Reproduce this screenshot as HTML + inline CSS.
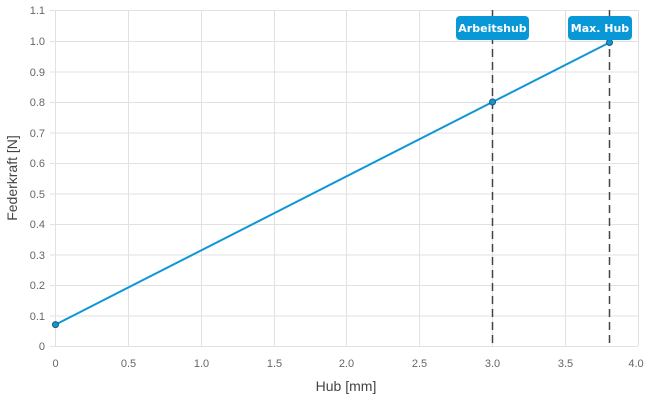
<!DOCTYPE html>
<html><head><meta charset="utf-8"><style>html,body{margin:0;padding:0;background:#fff}svg{display:block}text{font-family:"Liberation Sans","DejaVu Sans",sans-serif}</style></head><body>
<svg width="650" height="400" viewBox="0 0 650 400" xmlns="http://www.w3.org/2000/svg">
<g stroke="#e2e2e2" stroke-width="1">
<line x1="55.5" y1="10" x2="55.5" y2="346"/><line x1="128.5" y1="10" x2="128.5" y2="346"/><line x1="201.5" y1="10" x2="201.5" y2="346"/><line x1="274.5" y1="10" x2="274.5" y2="346"/><line x1="346.5" y1="10" x2="346.5" y2="346"/><line x1="419.5" y1="10" x2="419.5" y2="346"/><line x1="492.5" y1="10" x2="492.5" y2="346"/><line x1="565.5" y1="10" x2="565.5" y2="346"/><line x1="638.5" y1="10" x2="638.5" y2="346"/>
<line x1="50" y1="346.5" x2="638" y2="346.5"/><line x1="50" y1="316" x2="638" y2="316"/><line x1="50" y1="285.5" x2="638" y2="285.5"/><line x1="50" y1="255" x2="638" y2="255"/><line x1="50" y1="224.5" x2="638" y2="224.5"/><line x1="50" y1="194" x2="638" y2="194"/><line x1="50" y1="163.5" x2="638" y2="163.5"/><line x1="50" y1="133" x2="638" y2="133"/><line x1="50" y1="102.5" x2="638" y2="102.5"/><line x1="50" y1="72" x2="638" y2="72"/><line x1="50" y1="41.5" x2="638" y2="41.5"/><line x1="50" y1="10.5" x2="638" y2="10.5"/>
</g>
<g font-size="11" fill="#666" text-anchor="end">
<text x="45" y="350">0</text><text x="45" y="320">0.1</text><text x="45" y="289">0.2</text><text x="45" y="259">0.3</text><text x="45" y="228">0.4</text><text x="45" y="198">0.5</text><text x="45" y="167">0.6</text><text x="45" y="137">0.7</text><text x="45" y="106">0.8</text><text x="45" y="76">0.9</text><text x="45" y="45">1.0</text><text x="45" y="14">1.1</text>
</g>
<g font-size="11" fill="#666" text-anchor="middle">
<text x="55.5" y="367">0</text><text x="128.5" y="367">0.5</text><text x="201.5" y="367">1.0</text><text x="274.5" y="367">1.5</text><text x="346.5" y="367">2.0</text><text x="419.5" y="367">2.5</text><text x="492.5" y="367">3.0</text><text x="565.5" y="367">3.5</text><text x="636" y="367">4.0</text>
</g>
<text x="346" y="391" font-size="14" fill="#444" text-anchor="middle">Hub [mm]</text>
<text transform="translate(17,178) rotate(-90)" font-size="14" fill="#444" text-anchor="middle">Federkraft [N]</text>
<g stroke="#444" stroke-width="1.5" stroke-dasharray="8,5">
<line x1="492.5" y1="10" x2="492.5" y2="346"/><line x1="609.5" y1="10" x2="609.5" y2="346"/>
</g>
<polyline points="55.5,324.6 492.5,102 609.5,42.5" fill="none" stroke="#0f96d6" stroke-width="2"/>
<g fill="#0f96d6" stroke="#1b5c7a" stroke-width="1"><circle cx="55.5" cy="324.6" r="3"/><circle cx="492.5" cy="102" r="3"/><circle cx="609.5" cy="42.5" r="3"/></g>
<rect x="456" y="16" width="73" height="24" rx="4" fill="#0898d8"/>
<text x="492.5" y="32" font-size="11" font-weight="bold" fill="#fff" text-anchor="middle" style="font-family:'DejaVu Sans',sans-serif">Arbeitshub</text>
<rect x="568" y="16" width="64" height="24" rx="4" fill="#0898d8"/>
<text x="600" y="32" font-size="11" font-weight="bold" fill="#fff" text-anchor="middle" style="font-family:'DejaVu Sans',sans-serif">Max. Hub</text>
</svg>
</body></html>
